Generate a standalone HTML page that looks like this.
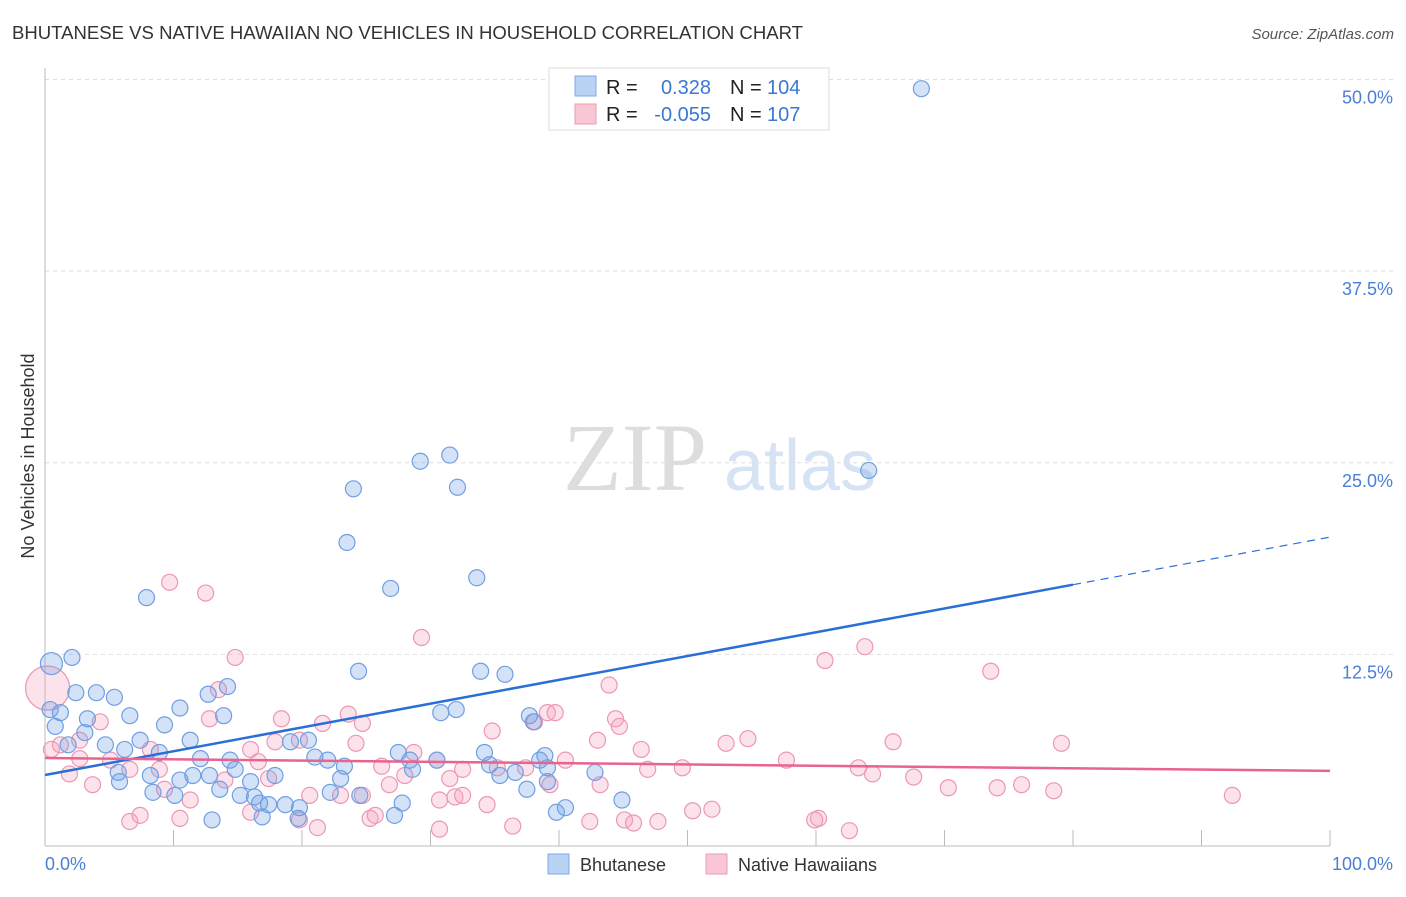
<!DOCTYPE html>
<html><head><meta charset="utf-8"><style>
body{margin:0;background:#fff;font-family:"Liberation Sans",sans-serif;}
</style></head><body>
<svg id="chart" width="1406" height="892" xmlns="http://www.w3.org/2000/svg">
<text x="12" y="39" font-size="18" fill="#333" textLength="791" lengthAdjust="spacingAndGlyphs">BHUTANESE VS NATIVE HAWAIIAN NO VEHICLES IN HOUSEHOLD CORRELATION CHART</text>
<text x="1394" y="39" font-size="15" fill="#555" font-style="italic" text-anchor="end">Source: ZipAtlas.com</text>
<text transform="translate(34,456) rotate(-90)" font-size="18" fill="#333" text-anchor="middle">No Vehicles in Household</text>
<g><text x="635" y="490" font-size="96" fill="#ddd" font-family="Liberation Serif,serif" text-anchor="middle">ZIP</text><text x="800" y="490" font-size="72" fill="#d5e3f5" text-anchor="middle">atlas</text></g>
<g id="grid"></g><g id="axes"></g><g id="pts"></g><g id="lines"></g>
<g>
<rect x="549" y="68" width="280" height="62" fill="#fff" stroke="#ddd"/>
<rect x="575" y="76" width="21" height="20" fill="#b9d3f3" stroke="#7eaae6"/>
<rect x="575" y="104" width="21" height="20" fill="#f9c6d5" stroke="#ec9ab4"/>
<g font-size="20" fill="#222"><text x="606" y="94">R =</text><text x="606" y="121">R =</text><text x="730" y="94">N =</text><text x="730" y="121">N =</text></g>
<g font-size="20" fill="#3a78d4"><text x="711" y="94" text-anchor="end">0.328</text><text x="711" y="121" text-anchor="end">-0.055</text><text x="767" y="94">104</text><text x="767" y="121">107</text></g>
</g>
<g>
<rect x="548" y="854" width="21" height="20" fill="#b9d3f3" stroke="#7eaae6"/>
<text x="580" y="871" font-size="18" fill="#333">Bhutanese</text>
<rect x="706" y="854" width="21" height="20" fill="#f9c6d5" stroke="#ec9ab4"/>
<text x="738" y="871" font-size="18" fill="#333">Native Hawaiians</text>
</g>
</svg>
<script>
const blueX=[68.2,64.1,31.5,29.2,32.1,24.0,23.5,33.6,26.9,7.9,2.1,0.5,24.4,33.9,35.8,14.2,2.4,4.0,5.4,12.7,10.5,6.6,13.9,0.4,1.2,3.3,9.3,30.8,32.0,37.7,38.0,0.8,3.1,4.7,7.4,11.3,19.1,20.5,1.8,6.2,8.9,12.1,14.4,21.0,22.0,27.5,30.5,34.2,38.5,38.9,34.6,5.7,8.2,10.5,11.5,12.8,14.8,16.0,17.9,23.0,28.6,35.4,36.6,39.1,42.8,8.4,10.1,15.2,16.3,27.8,18.7,19.8,22.2,24.5,37.5,39.1,44.9,27.2,39.8,40.5,13.0,16.9,17.4,19.7,16.7,5.8,13.6,23.3,28.4];
const blueY=[49.4,24.5,25.5,25.1,23.4,23.3,19.8,17.5,16.8,16.2,12.3,11.9,11.4,11.4,11.2,10.4,10.0,10.0,9.7,9.9,9.0,8.5,8.5,8.9,8.7,8.3,7.9,8.7,8.9,8.5,8.1,7.8,7.4,6.6,6.9,6.9,6.8,6.9,6.6,6.3,6.1,5.7,5.6,5.8,5.6,6.1,5.6,6.1,5.6,5.9,5.3,4.8,4.6,4.3,4.6,4.6,5.0,4.2,4.6,4.4,5.0,4.6,4.8,5.1,4.8,3.5,3.3,3.3,3.2,2.8,2.7,2.5,3.5,3.3,3.7,4.2,3.0,2.0,2.2,2.5,1.7,1.9,2.7,1.8,2.8,4.2,3.7,5.2,5.6];
const pinkX=[9.7,12.5,29.3,14.8,63.8,60.7,73.6,43.9,13.5,23.6,4.3,12.8,18.4,21.6,24.7,38.1,39.1,39.7,34.8,44.4,44.7,0.5,1.2,2.7,5.1,8.9,16.0,17.9,19.8,24.2,28.7,30.5,43.0,46.4,53.0,54.7,57.7,66.0,79.1,1.9,3.7,6.6,9.3,11.3,16.6,17.4,20.6,23.0,26.2,26.8,28.0,31.5,32.5,35.2,37.4,40.5,46.9,49.6,63.3,64.4,67.6,70.3,74.1,76.0,78.5,92.4,30.7,31.9,32.5,34.4,39.3,43.2,45.1,47.7,50.4,51.9,45.8,42.4,36.4,30.7,25.3,25.7,19.8,21.2,16.0,6.6,7.4,10.5,62.6,60.2,59.9,24.7,8.2,2.7,14.0,0.2];
const pinkY=[17.2,16.5,13.6,12.3,13.0,12.1,11.4,10.5,10.2,8.6,8.1,8.3,8.3,8.0,8.0,8.1,8.7,8.7,7.5,8.3,7.8,6.3,6.6,5.7,5.6,5.0,6.3,6.8,6.9,6.7,6.1,5.6,6.9,6.3,6.7,7.0,5.6,6.8,6.7,4.7,4.0,5.0,3.7,3.0,5.5,4.4,3.3,3.3,5.2,4.0,4.6,4.4,5.0,5.1,5.1,5.6,5.0,5.1,5.1,4.7,4.5,3.8,3.8,4.0,3.6,3.3,3.0,3.2,3.3,2.7,4.0,4.0,1.7,1.6,2.3,2.4,1.5,1.6,1.3,1.1,1.8,2.0,1.7,1.2,2.2,1.6,2.0,1.8,1.0,1.8,1.7,3.3,6.3,6.9,4.3,10.3];
const yTicks=[12.5,25,37.5,50];
const yTickLabels=["12.5%","25.0%","37.5%","50.0%"];
const blueTrend=[4.63,20.15];
const pinkTrend=[5.74,4.9];
const NS="http://www.w3.org/2000/svg";
const X=v=>45+v*12.85, Y=v=>846-v*15.33;
function mk(parent,tag,attrs){const e=document.createElementNS(NS,tag);for(const k in attrs)e.setAttribute(k,attrs[k]);document.getElementById(parent).appendChild(e);return e;}
yTicks.forEach((t,i)=>{
 const g=mk('grid','line',{x1:45,x2:1394,y1:Y(t),y2:Y(t),stroke:'#ddd','stroke-dasharray':'4,4'});
 
 
 const l=mk('axes','text',{x:1393,y:Y(t)+24,'font-size':18,fill:'#4a7fd4','text-anchor':'end'});l.textContent=yTickLabels[i];
 
 
});
const ax=mk('axes','line',{x1:45,x2:1330,y1:846,y2:846,stroke:'#bbb'});


const ay=mk('axes','line',{x1:45,x2:45,y1:68,y2:846,stroke:'#bbb'});


for(let i=0;i<=10;i++){const t=mk('axes','line',{x1:X(i*10),x2:X(i*10),y1:830,y2:846,stroke:'#bbb'});
 
 }
const x0=mk('axes','text',{x:45,y:870,'font-size':18,fill:'#4a7fd4'});x0.textContent='0.0%';


const x1=mk('axes','text',{x:1393,y:870,'font-size':18,fill:'#4a7fd4','text-anchor':'end'});x1.textContent='100.0%';


pinkX.forEach((v,i)=>{const c=mk('pts','circle',{cx:X(v),cy:Y(pinkY[i]),r:(v<0.3&&pinkY[i]>10)?22:8,fill:'rgba(245,160,190,0.3)',stroke:'#ec97b3','stroke-width':1.2});
 
 });
blueX.forEach((v,i)=>{const c=mk('pts','circle',{cx:X(v),cy:Y(blueY[i]),r:(v<1&&blueY[i]>11)?11:8,fill:'rgba(110,160,230,0.3)',stroke:'#6f9fe2','stroke-width':1.2});
 
 });
const bAt=x=>blueTrend[0]+(blueTrend[1]-blueTrend[0])*x/100;
const b1=mk('lines','line',{x1:X(0),y1:Y(bAt(0)),x2:X(80),y2:Y(bAt(80)),stroke:'#2a6fd6','stroke-width':2.5});


const b2=mk('lines','line',{x1:X(80),y1:Y(bAt(80)),x2:X(100),y2:Y(bAt(100)),stroke:'#2a6fd6','stroke-width':1.2,'stroke-dasharray':'8,6'});


const p1=mk('lines','line',{x1:X(0),y1:Y(pinkTrend[0]),x2:X(100),y2:Y(pinkTrend[1]),stroke:'#e8638f','stroke-width':2.5});


</script>
</body></html>
